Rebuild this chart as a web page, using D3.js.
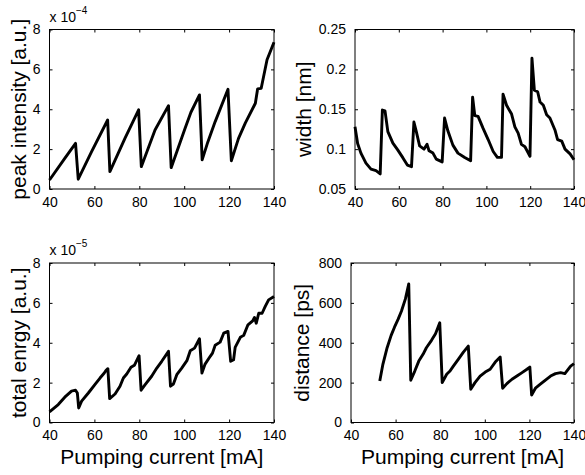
<!DOCTYPE html>
<html>
<head>
<meta charset="utf-8">
<script src="https://cdn.jsdelivr.net/npm/d3@7"></script>
<style>
  body { margin: 0; background: #fff; }
  svg { display: block; font-family: "Liberation Sans", Arial, sans-serif; }
</style>
</head>
<body>
<svg id="chart"></svg>
<script>
// pumping current ticks (mA)
let currentTicks = [40, 60, 80, 100, 120, 140];

// peak intensity, in units of 1e-4 a.u.
let peakCurrent = [40, 46.8, 51.6, 52.8, 58.75, 65.9, 66.9, 73.6, 79.7, 80.9, 87, 93, 94.2, 100.4, 103, 106.8, 108, 110.5, 113.8, 119.5, 121, 124.2, 127.2, 131.7, 132.7, 134.3, 136.9, 140];
let peakIntensity = [0.45, 1.54, 2.29, 0.49, 1.87, 3.46, 0.87, 2.54, 3.97, 1.12, 2.96, 4.18, 1.07, 3.05, 3.85, 4.72, 1.46, 2.35, 3.38, 5.0, 1.42, 2.54, 3.30, 4.30, 5.02, 5.05, 6.48, 7.36];

// spectral width, nm
let widthCurrent = [40, 41.2, 42.7, 45, 47.3, 49.6, 51.5, 52.5, 53.7, 55, 57.3, 59.5, 61.9, 63.9, 65.8, 66.9, 68, 69.5, 71.5, 72.9, 73.8, 75.6, 77.1, 79.8, 80.9, 82.4, 84.7, 87, 90.1, 92.8, 93.7, 94.7, 96.2, 98.5, 100.8, 103.1, 105, 106.9, 107.6, 109.2, 111.5, 113, 114.5, 116, 117.6, 119.9, 120.8, 121.9, 123.4, 124.5, 126, 127.5, 129, 131.3, 132.5, 134.4, 135.9, 138.2, 140];
let widthNm = [0.128, 0.107, 0.095, 0.0825, 0.075, 0.073, 0.069, 0.149, 0.148, 0.122, 0.1075, 0.099, 0.089, 0.080, 0.078, 0.134, 0.122, 0.104, 0.100, 0.106, 0.098, 0.095, 0.0875, 0.084, 0.139, 0.123, 0.105, 0.095, 0.0896, 0.0855, 0.165, 0.142, 0.141, 0.126, 0.112, 0.097, 0.0896, 0.0896, 0.169, 0.155, 0.144, 0.128, 0.12, 0.106, 0.103, 0.091, 0.214, 0.174, 0.172, 0.159, 0.155, 0.143, 0.139, 0.124, 0.112, 0.11, 0.100, 0.094, 0.0867];

// total energy, in units of 1e-5 a.u.
let energyCurrent = [40, 43.9, 46.8, 49.8, 51.6, 52.4, 53, 54.3, 57.3, 60.2, 62.5, 64.4, 65.2, 66, 66.8, 69.2, 71.4, 72.9, 74.4, 76.3, 77.8, 79.9, 80.8, 82.6, 85.5, 87.8, 90, 93, 93.9, 95.2, 96.7, 98.9, 101.2, 102.7, 104.6, 106.8, 107.9, 109.3, 111.6, 112.6, 113.8, 116, 117.6, 119.5, 120.7, 122, 122.7, 125, 126.5, 128.4, 130.5, 131.3, 132.1, 133.2, 134.7, 136.1, 137.6, 140];
let totalEnergy = [0.53, 0.9, 1.27, 1.57, 1.62, 1.48, 0.73, 1.07, 1.48, 1.9, 2.23, 2.48, 2.62, 2.7, 1.2, 1.43, 1.82, 2.23, 2.43, 2.77, 2.87, 3.35, 1.62, 1.9, 2.32, 2.73, 3.07, 3.57, 1.82, 1.93, 2.4, 2.73, 3.1, 3.6, 3.73, 4.2, 2.48, 2.93, 3.32, 3.48, 3.87, 4.03, 4.48, 4.57, 3.07, 3.15, 3.77, 4.27, 4.37, 4.9, 5.1, 5.27, 4.98, 5.48, 5.48, 5.82, 6.15, 6.32];

// pulse distance, ps
let distCurrent = [52.9, 54.3, 56.2, 58, 59.5, 61.1, 62.6, 64.4, 65.9, 66.8, 68.6, 70.4, 72.3, 73.8, 76.1, 77.9, 79.8, 80.9, 82.9, 84.4, 85.9, 88.1, 90.4, 92.6, 93.7, 95.6, 97.9, 100.2, 102.4, 104.7, 106.9, 108, 109.9, 112.2, 114.4, 116.7, 118.9, 120.2, 121, 122.7, 124.9, 127.2, 129.5, 131.7, 134, 135.9, 138.5, 140];
let distancePs = [208, 292, 375, 437, 478, 517, 558, 620, 695, 212, 258, 308, 342, 375, 412, 445, 500, 200, 242, 258, 283, 317, 353, 383, 167, 200, 233, 253, 267, 303, 328, 172, 195, 217, 233, 250, 267, 278, 138, 172, 192, 213, 233, 245, 250, 245, 283, 295];

let peakTicks = [0, 2, 4, 6, 8];
let widthTicks = [0.05, 0.1, 0.15, 0.2, 0.25];
let energyTicks = [0, 2, 4, 6, 8];
let distTicks = [0, 200, 400, 600, 800];

let width = 585,
    height = 475;

let svg = d3.select("#chart")
    .attr("width", width)
    .attr("height", height);

function drawPanel(box, xs, ys, yTicks, yLabel, yLabelX, expo, xLabel) {
    let x = d3.scaleLinear().domain([40, 140]).range([box.left, box.right]);
    let y = d3.scaleLinear().domain([yTicks[0], yTicks[yTicks.length - 1]]).range([box.bottom, box.top]);

    let g = svg.append("g");

    let fmt = d => String(d);

    let bottom = g.append("g")
        .attr("transform", "translate(0," + box.bottom + ")")
        .call(d3.axisBottom(x).tickValues(currentTicks).tickSizeInner(-3).tickSizeOuter(0).tickPadding(8).tickFormat(fmt));
    let top = g.append("g")
        .attr("transform", "translate(0," + box.top + ")")
        .call(d3.axisTop(x).tickValues(currentTicks).tickSizeInner(-3).tickSizeOuter(0).tickFormat(""));
    let left = g.append("g")
        .attr("transform", "translate(" + box.left + ",0)")
        .call(d3.axisLeft(y).tickValues(yTicks).tickSizeInner(-3).tickSizeOuter(0).tickPadding(9).tickFormat(fmt));
    let right = g.append("g")
        .attr("transform", "translate(" + box.right + ",0)")
        .call(d3.axisRight(y).tickValues(yTicks).tickSizeInner(-3).tickSizeOuter(0).tickFormat(""));

    [bottom, top, left, right].forEach(a => {
        a.select(".domain").remove();
        a.selectAll("line").attr("stroke", "#000");
        a.selectAll("text").attr("fill", "#000").style("font-size", "14px")
            .style("font-family", "'Liberation Sans', Arial, sans-serif");
    });

    let line = d3.line()
        .x((d, i) => x(xs[i]))
        .y(d => y(d));

    g.append("path")
        .datum(ys)
        .attr("d", line)
        .attr("fill", "none")
        .attr("stroke", "#000")
        .attr("stroke-width", 2.9)
        .attr("stroke-linejoin", "round");

    g.append("rect")
        .attr("x", box.left).attr("y", box.top)
        .attr("width", box.right - box.left).attr("height", box.bottom - box.top)
        .attr("fill", "none").attr("stroke", "#000").attr("stroke-width", 1);

    g.append("text")
        .attr("transform", "translate(" + yLabelX + "," + (box.top + box.bottom) / 2 + ") rotate(-90)")
        .attr("text-anchor", "middle")
        .style("font-size", "21px")
        .text(yLabel);

    if (expo) {
        let t = g.append("text")
            .attr("x", box.left)
            .attr("y", box.top - 8)
            .style("font-size", "14px");
        t.append("tspan").text("x 10");
        t.append("tspan").attr("dy", -8).style("font-size", "10px").text(expo);
    }

    if (xLabel) {
        g.append("text")
            .attr("x", (box.left + box.right) / 2)
            .attr("y", box.bottom + 41)
            .attr("text-anchor", "middle")
            .style("font-size", "21px")
            .text(xLabel);
    }
}

drawPanel({left: 49.5, right: 274, top: 29.5, bottom: 189}, peakCurrent, peakIntensity, peakTicks,
    "peak intensity [a.u.]", 26, "\u22124", null);
drawPanel({left: 355, right: 574, top: 29.5, bottom: 189}, widthCurrent, widthNm, widthTicks,
    "width [nm]", 311, null, null);
drawPanel({left: 49.5, right: 274, top: 263, bottom: 422.5}, energyCurrent, totalEnergy, energyTicks,
    "total enrgy [a.u.]", 26, "\u22125", "Pumping current [mA]");
drawPanel({left: 351, right: 574, top: 263, bottom: 422.5}, distCurrent, distancePs, distTicks,
    "distance [ps]", 309, null, "Pumping current [mA]");
</script>
</body>
</html>
